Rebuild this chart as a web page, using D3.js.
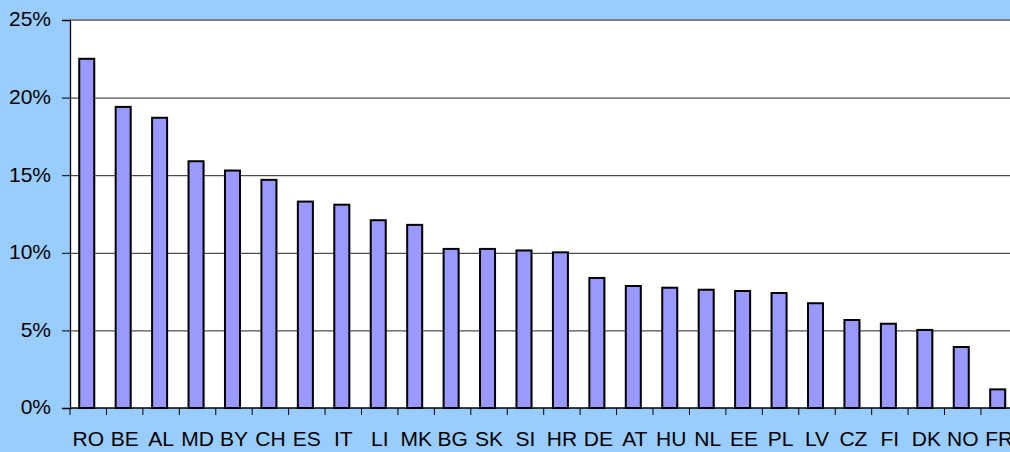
<!DOCTYPE html>
<html>
<head>
<meta charset="utf-8">
<script src="https://cdn.jsdelivr.net/npm/d3@7"></script>
<style>
  html, body { margin: 0; padding: 0; background: #99CCFF; }
  svg { display: block; }
</style>
</head>
<body>
<script>
// countries, sorted as in the picture
var countries = ['RO','BE','AL','MD','BY','CH','ES','IT','LI','MK','BG','SK','SI',
                 'HR','DE','AT','HU','NL','EE','PL','LV','CZ','FI','DK','NO','FR']
// share in percent
var shares = [22.5, 19.4, 18.7, 15.9, 15.3, 14.7, 13.3, 13.1, 12.1, 11.8, 10.25, 10.25, 10.15,
              10.03, 8.38, 7.86, 7.75, 7.62, 7.54, 7.41, 6.75, 5.67, 5.43, 5.03, 3.93, 1.2]
// y axis ticks
var yTicks = [0, 5, 10, 15, 20, 25]

var width = 1010
var height = 452
var plotLeft = 70
var plotRight = 1017.4
var plotTop = 20
var plotBottom = 408

var data = countries.map((c, i) => ({ name: c, value: shares[i] }))

var svg = d3.select('body').append('svg')
    .attr('width', width)
    .attr('height', height)
    .style('font-family', "'Liberation Sans', Arial, sans-serif")

svg.append('rect')
    .attr('width', width).attr('height', height)
    .attr('fill', '#99CCFF')

// scales
var x = d3.scaleBand().domain(countries).range([plotLeft, plotRight]).padding(0)
var y = d3.scaleLinear().domain([0, 25]).range([plotBottom, plotTop])

// plot area
svg.append('rect')
    .attr('x', plotLeft).attr('y', plotTop)
    .attr('width', plotRight - plotLeft).attr('height', plotBottom - plotTop)
    .attr('fill', '#ffffff')

// top border
svg.append('line')
    .attr('x1', plotLeft).attr('x2', plotRight)
    .attr('y1', plotTop).attr('y2', plotTop)
    .attr('stroke', '#808080').attr('stroke-width', 2)

// grid lines
svg.append('g')
    .attr('transform', 'translate(' + plotLeft + ',0)')
    .call(d3.axisLeft(y).tickValues([5, 10, 15, 20]).tickSize(-(plotRight - plotLeft)).tickFormat(''))
    .call(g => g.select('.domain').remove())
    .selectAll('line').attr('stroke', '#222').attr('stroke-width', 1)

// bars (shadow first)
var barW = 15
svg.append('g').selectAll('rect')
    .data(data)
    .enter()
    .append('rect')
    .attr('x', d => x(d.name) + x.bandwidth() / 2 - barW / 2 - 0.5)
    .attr('y', d => y(d.value) + 1.5)
    .attr('width', barW)
    .attr('height', d => plotBottom - y(d.value) - 1.5)
    .attr('fill', '#b8b8b8')

svg.append('g').selectAll('rect')
    .data(data)
    .enter()
    .append('rect')
    .attr('class', 'bar')
    .attr('x', d => x(d.name) + x.bandwidth() / 2 - barW / 2 - 1.5)
    .attr('y', d => y(d.value))
    .attr('width', barW)
    .attr('height', d => plotBottom - y(d.value))
    .attr('fill', '#9999FF')
    .attr('stroke', '#000')
    .attr('stroke-width', 2)

// y axis
var yAxis = svg.append('g')
    .attr('transform', 'translate(' + plotLeft + ',0)')
    .call(d3.axisLeft(y).tickValues(yTicks).tickSize(8).tickPadding(11).tickFormat(d => d + '%'))
yAxis.select('.domain').attr('stroke', '#000').attr('stroke-width', 1.3)
yAxis.selectAll('.tick line').attr('stroke', '#000')
yAxis.selectAll('text').attr('font-size', 21).attr('fill', '#000').attr('dy', '0.28em')
    .attr('font-family', "'Liberation Sans', Arial, sans-serif")

// x axis line
svg.append('line')
    .attr('x1', plotLeft).attr('x2', plotRight)
    .attr('y1', plotBottom).attr('y2', plotBottom)
    .attr('stroke', '#000').attr('stroke-width', 1.3)

// x ticks between categories
svg.append('g').selectAll('line')
    .data(d3.range(countries.length + 1))
    .enter()
    .append('line')
    .attr('x1', i => plotLeft + i * x.step()).attr('x2', i => plotLeft + i * x.step())
    .attr('y1', plotBottom).attr('y2', plotBottom + 7)
    .attr('stroke', '#000')

// x labels
var xAxis = svg.append('g')
    .attr('transform', 'translate(0,' + plotBottom + ')')
    .call(d3.axisBottom(x).tickSize(0).tickPadding(23))
xAxis.select('.domain').remove()
xAxis.selectAll('text').attr('font-size', 21).attr('fill', '#000')
    .attr('font-family', "'Liberation Sans', Arial, sans-serif")
</script>
</body>
</html>
